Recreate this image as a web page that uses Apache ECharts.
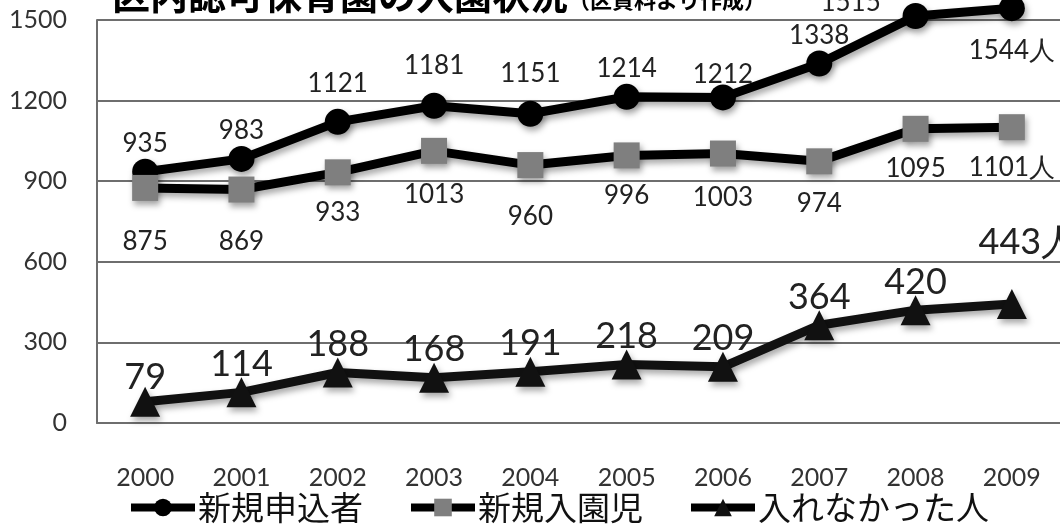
<!DOCTYPE html>
<html><head><meta charset="utf-8">
<script src="https://cdn.jsdelivr.net/npm/echarts@6/dist/echarts.min.js"></script>
<style>html,body{margin:0;padding:0;background:#fff}#c{width:1060px;height:526px}</style>
</head><body><div id="c"></div>
<script>
const years = ['2000','2001','2002','2003','2004','2005','2006','2007','2008','2009'];
const applicants = [935, 983, 1121, 1181, 1151, 1214, 1212, 1338, 1515, 1544];
const admitted = [875, 869, 933, 1013, 960, 996, 1003, 974, 1095, 1101];
const rejected = [79, 114, 188, 168, 191, 218, 209, 364, 420, 443];
const seriesNames = ['新規申込者', '新規入園児', '入れなかった人'];
const titleMain = '区内認可保育園の入園状況';
const titleSub = '（区資料より作成）';
const unit = '人';

const NUM_FONT = 'Lato, "Open Sans", sans-serif';
const JP_FONT = '"Noto Sans CJK JP", sans-serif';
const shadow = {shadowColor:'rgba(0,0,0,0.35)', shadowBlur:6, shadowOffsetX:2, shadowOffsetY:4};

function withLabels(vals, tweaks) {
  return vals.map((v, i) => tweaks[i] ? {value: v, label: tweaks[i]} : v);
}
const fmt = p => p.dataIndex === years.length - 1 ? p.value + unit : String(p.value);

const chart = echarts.init(document.getElementById('c'), null, {renderer:'canvas'});
chart.setOption({
  animation:false,
  backgroundColor:'#fff',
  title:{
    text:'{a|' + titleMain + '}{b|' + titleSub + '}',
    left:107, top:-29,
    textStyle:{rich:{
      a:{fontFamily:JP_FONT, fontSize:38, fontWeight:'bold', color:'#000'},
      b:{fontFamily:JP_FONT, fontSize:22, fontWeight:'bold', color:'#000', padding:[10,0,0,0]}
    }}
  },
  legend:{
    data:seriesNames,
    left:122, top:486,
    itemWidth:64, itemHeight:22, itemGap:44,
    lineStyle:{width:8, color:'#000'},
    textStyle:{fontFamily:JP_FONT, fontSize:33, color:'#111', padding:[0,0,0,-2]}
  },
  grid:{left:97, right:-20, top:20, bottom:103, containLabel:false},
  xAxis:{
    type:'category', data:years, boundaryGap:true,
    axisLine:{show:true, lineStyle:{color:'#6e6e6e', width:2}},
    axisTick:{show:false},
    axisLabel:{margin:42, fontFamily:NUM_FONT, fontSize:25, color:'#333'},
    splitLine:{show:false}
  },
  yAxis:{
    type:'value', min:0, max:1500, interval:300,
    axisLine:{show:true, lineStyle:{color:'#6e6e6e', width:2}},
    axisTick:{show:false},
    axisLabel:{margin:30, fontFamily:NUM_FONT, fontSize:25, color:'#333', formatter:v => String(v)},
    splitLine:{show:true, lineStyle:{color:'#6e6e6e', width:2}}
  },
  series:[
    {
      name:seriesNames[0], type:'line', clip:false, data:withLabels(applicants, {
        2:{distance:12}, 3:{distance:14}, 4:{distance:14}, 6:{distance:-3},
        8:{offset:[-65,15]},
        9:{position:'bottom', distance:16}
      }),
      symbol:'circle', symbolSize:26,
      lineStyle:Object.assign({color:'#000', width:9}, shadow),
      itemStyle:Object.assign({color:'#000'}, shadow),
      label:{show:true, position:'top', distance:2, formatter:fmt,
        fontFamily:NUM_FONT, fontSize:26, color:'#222'},
      z:2
    },
    {
      name:seriesNames[1], type:'line', clip:false, data:withLabels(admitted, {
        0:{distance:28}, 1:{distance:26}, 3:{distance:18}, 4:{distance:26}, 6:{distance:18}, 7:{distance:16}
      }),
      symbol:'rect', symbolSize:26,
      lineStyle:Object.assign({color:'#000', width:9}, shadow),
      itemStyle:Object.assign({color:'#7f7f7f'}, shadow),
      label:{show:true, position:'bottom', distance:14, formatter:fmt,
        fontFamily:NUM_FONT, fontSize:26, color:'#222'},
      z:3
    },
    {
      name:seriesNames[2], type:'line', clip:false, data:withLabels(rejected, {
        0:{distance:-9},
        9:{offset:[16,-34]}
      }),
      symbol:'triangle', symbolSize:30,
      lineStyle:Object.assign({color:'#111', width:9}, shadow),
      itemStyle:Object.assign({color:'#111'}, shadow),
      label:{show:true, position:'top', distance:-5, formatter:fmt,
        fontFamily:NUM_FONT, fontSize:36, color:'#222'},
      z:4
    }
  ]
});
</script></body></html>
